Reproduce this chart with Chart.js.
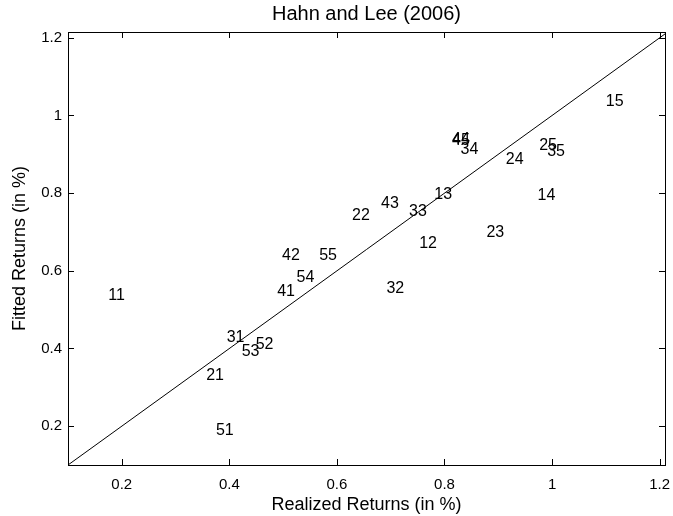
<!DOCTYPE html>
<html>
<head>
<meta charset="utf-8">
<script src="https://cdn.jsdelivr.net/npm/chart.js@4"></script>
<style>
  body { margin: 0; background: #fff; }
  #wrap { width: 673px; height: 516px; }
</style>
</head>
<body>
<div id="wrap"><canvas id="scatterChart" width="673" height="516"></canvas></div>
<script>
// portfolio ids and their realized / fitted returns (in %)
const portfolios = ['11', '12', '13', '14', '15', '21', '22', '23', '24', '25',
    '31', '32', '33', '34', '35', '41', '42', '43', '44', '45',
    '51', '52', '53', '54', '55']
const realized = [0.175, 0.753, 0.781, 0.973, 1.100, 0.357, 0.628, 0.878, 0.914, 0.976,
    0.395, 0.692, 0.734, 0.830, 0.991, 0.489, 0.498, 0.682, 0.814, 0.814,
    0.375, 0.449, 0.423, 0.525, 0.567]
const fitted = [0.541, 0.673, 0.800, 0.798, 1.039, 0.334, 0.747, 0.701, 0.891, 0.927,
    0.432, 0.559, 0.755, 0.917, 0.910, 0.551, 0.644, 0.776, 0.942, 0.940,
    0.192, 0.414, 0.396, 0.585, 0.644]
// 45 degree line
const diagLine = [0.1, 1.21]
const xTicks = [0.2, 0.4, 0.6, 0.8, 1, 1.2]
const yTicks = [0.2, 0.4, 0.6, 0.8, 1, 1.2]
const chartTitle = 'Hahn and Lee (2006)'

const fontFamily = '"Liberation Sans", Arial, Helvetica, sans-serif'

const points = realized.map((x, i) => ({ x: x, y: fitted[i] }))

// text labels, left aligned at the point (like matlab text())
const labelPlugin = {
    id: 'labelPlugin',
    afterDatasetsDraw(chart) {
        let ctx = chart.ctx
        let meta = chart.getDatasetMeta(0)
        ctx.save()
        ctx.font = '16px ' + fontFamily
        ctx.fillStyle = '#000'
        ctx.textAlign = 'left'
        ctx.textBaseline = 'alphabetic'
        meta.data.forEach((pt, i) => {
            ctx.fillText(portfolios[i], pt.x, pt.y + 5.8)
        })
        ctx.restore()
    }
}

// box around the axes with inward ticks on all sides, title centred over the axes
const boxPlugin = {
    id: 'boxPlugin',
    afterDraw(chart) {
        let ctx = chart.ctx
        let a = chart.chartArea
        let xs = chart.scales.x
        let ys = chart.scales.y
        let len = 6
        ctx.save()
        ctx.strokeStyle = '#000'
        ctx.lineWidth = 1
        ctx.strokeRect(a.left + 0.5, a.top + 0.5, a.right - a.left, a.bottom - a.top)
        ctx.beginPath()
        xTicks.forEach(v => {
            let px = Math.round(xs.getPixelForValue(v)) + 0.5
            ctx.moveTo(px, a.bottom); ctx.lineTo(px, a.bottom - len)
            ctx.moveTo(px, a.top); ctx.lineTo(px, a.top + len)
        })
        yTicks.forEach(v => {
            let py = Math.round(ys.getPixelForValue(v)) + 0.5
            ctx.moveTo(a.left, py); ctx.lineTo(a.left + len, py)
            ctx.moveTo(a.right, py); ctx.lineTo(a.right - len, py)
        })
        ctx.stroke()

        ctx.fillStyle = '#000'
        ctx.font = '20px ' + fontFamily
        ctx.textAlign = 'center'
        ctx.textBaseline = 'middle'
        ctx.fillText(chartTitle, (a.left + a.right) / 2, 14)
        ctx.restore()
    }
}

const tickFmt = v => String(+Number(v).toFixed(1))

new Chart(document.getElementById('scatterChart'), {
    type: 'scatter',
    data: {
        datasets: [{
            data: points,
            pointRadius: 0,
            pointHoverRadius: 0,
            showLine: false
        }, {
            type: 'line',
            data: diagLine.map(v => ({ x: v, y: v })),
            borderColor: '#000',
            borderWidth: 1,
            pointRadius: 0,
            fill: false
        }]
    },
    options: {
        responsive: false,
        animation: false,
        events: [],
        layout: { padding: { left: 0, right: 8, top: 32, bottom: 0 } },
        plugins: {
            legend: { display: false },
            tooltip: { enabled: false },
            title: { display: false }
        },
        scales: {
            x: {
                type: 'linear',
                min: 0.1,
                max: 1.21,
                afterBuildTicks: s => { s.ticks = xTicks.map(v => ({ value: v })) },
                afterFit: s => {
                    s.height = 51
                    s.paddingLeft = 0
                    s.paddingRight = 0
                },
                grid: { display: false, drawTicks: false },
                border: { display: false },
                ticks: {
                    color: '#000',
                    padding: 11,
                    maxRotation: 0,
                    font: { family: fontFamily, size: 15 },
                    callback: tickFmt
                },
                title: {
                    display: true,
                    text: 'Realized Returns (in %)',
                    color: '#000',
                    font: { family: fontFamily, size: 18 },
                    padding: { top: 0, bottom: 0 }
                }
            },
            y: {
                type: 'linear',
                min: 0.1,
                max: 1.215,
                afterBuildTicks: s => { s.ticks = yTicks.map(v => ({ value: v })) },
                afterFit: s => {
                    s.width = 68
                    s.paddingTop = 0
                    s.paddingBottom = 0
                },
                grid: { display: false, drawTicks: false },
                border: { display: false },
                ticks: {
                    color: '#000',
                    padding: 6,
                    font: { family: fontFamily, size: 15 },
                    callback: tickFmt
                },
                title: {
                    display: true,
                    text: 'Fitted Returns (in %)',
                    color: '#000',
                    font: { family: fontFamily, size: 18 },
                    padding: { top: 9, bottom: 0 }
                }
            }
        }
    },
    plugins: [labelPlugin, boxPlugin]
})
</script>
</body>
</html>
